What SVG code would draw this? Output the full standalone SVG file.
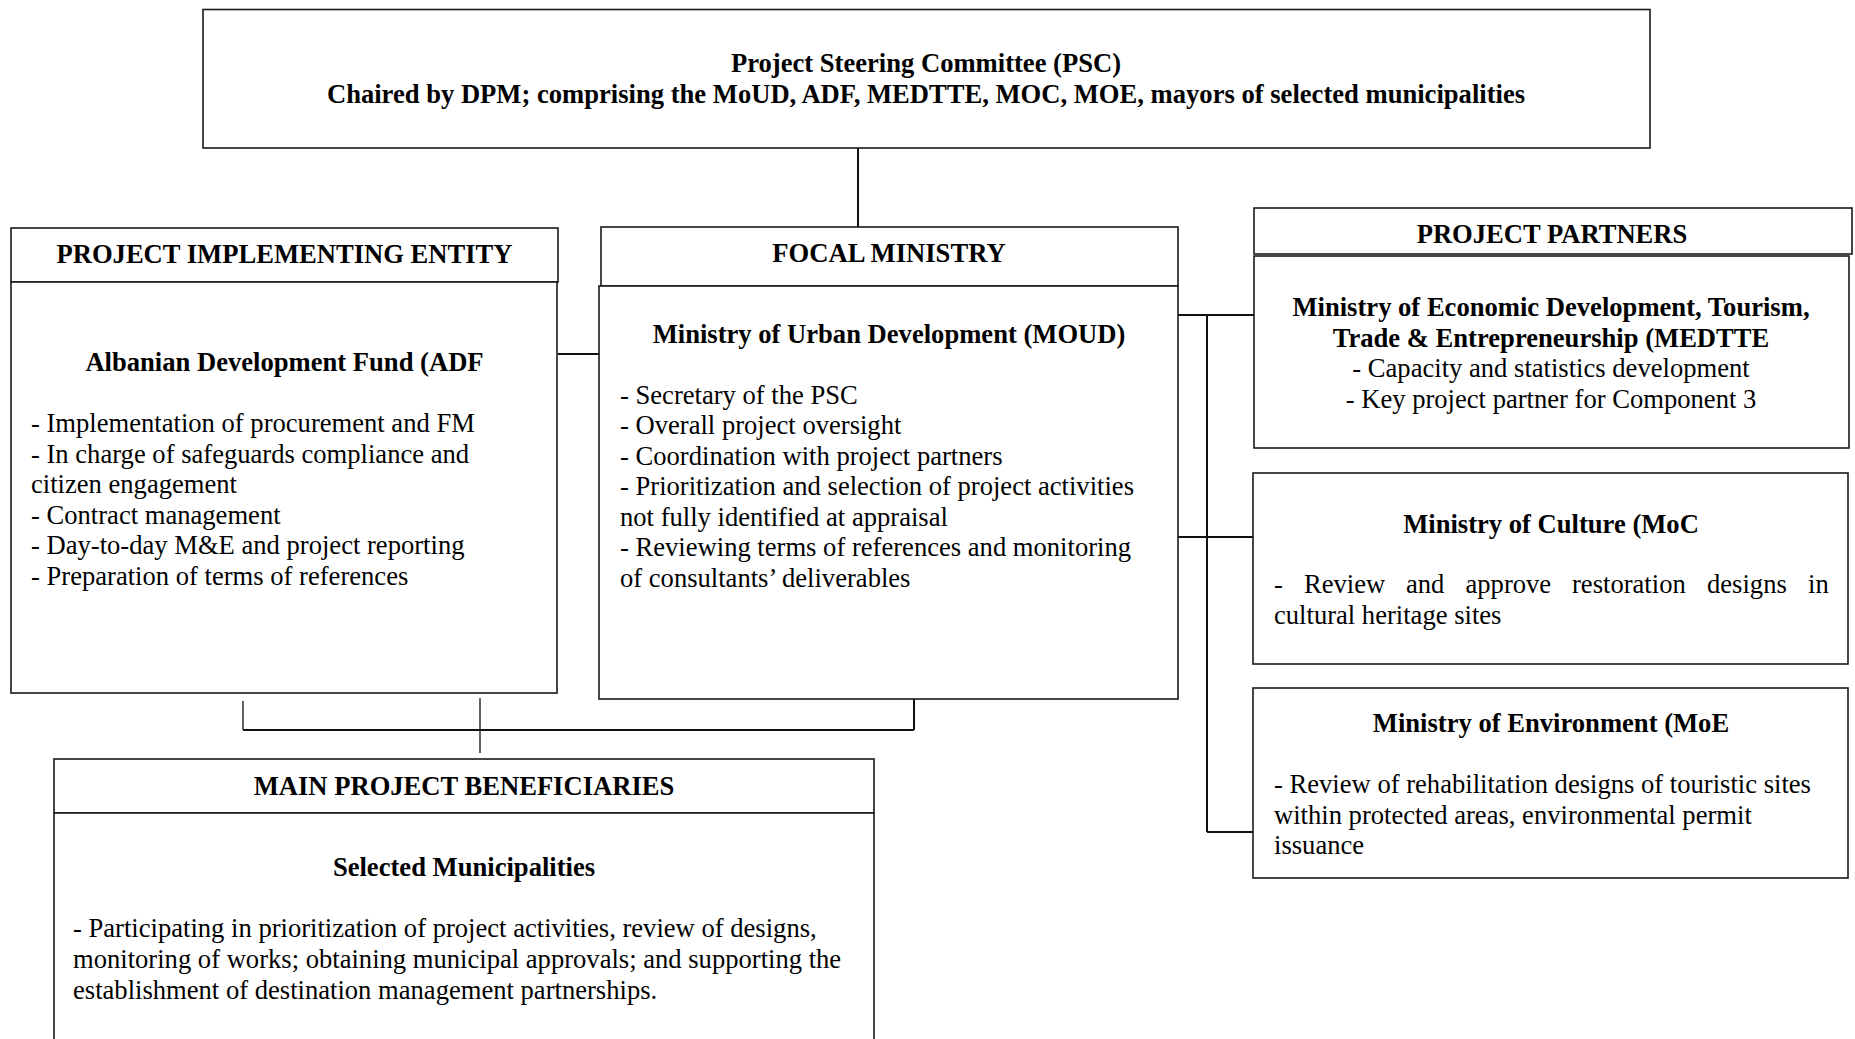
<svg xmlns="http://www.w3.org/2000/svg" width="1855" height="1039" viewBox="0 0 1855 1039">
  <style>
    .box { fill: #ffffff; stroke: #1a1a1a; stroke-width: 1.6; }
    .link { fill: none; stroke: #111111; stroke-width: 2; }
    .thin { fill: none; stroke: #222222; stroke-width: 1.4; }
    text { font-family: "Liberation Serif", "Times New Roman", serif; font-size: 26.6px; fill: #000000; }
    .b { font-weight: bold; }
    .c { text-anchor: middle; }
  </style>

  <rect width="1855" height="1039" fill="#ffffff"/>

  <!-- connectors -->
  <g id="connectors">
    <line class="link" x1="858" y1="148" x2="858" y2="227"/>
    <line class="link" x1="558" y1="354" x2="600" y2="354"/>
    <line class="link" x1="1178" y1="315" x2="1254" y2="315"/>
    <line class="link" x1="1207" y1="315" x2="1207" y2="832"/>
    <line class="link" x1="1178" y1="537" x2="1253" y2="537"/>
    <line class="link" x1="1207" y1="832" x2="1253" y2="832"/>
    <line class="thin" x1="243" y1="701" x2="243" y2="730"/>
    <line class="link" x1="243" y1="730" x2="914" y2="730"/>
    <line class="link" x1="914" y1="699" x2="914" y2="730"/>
    <line class="thin" x1="480" y1="698" x2="480" y2="753"/>
  </g>

  <!-- steering committee -->
  <g id="psc">
    <rect class="box" x="203" y="9.5" width="1447" height="138.5"/>
    <text class="b c" x="926" y="72">Project Steering Committee (PSC)</text>
    <text class="b c" x="926" y="103">Chaired by DPM; comprising the MoUD, ADF, MEDTTE, MOC, MOE, mayors of selected municipalities</text>
  </g>

  <!-- implementing entity -->
  <g id="implementing-entity">
    <rect class="box" x="11" y="228" width="547" height="54"/>
    <rect class="box" x="11" y="282" width="546" height="411"/>
    <text class="b c" x="284.5" y="263">PROJECT IMPLEMENTING ENTITY</text>
    <text class="b c" x="284.5" y="371">Albanian Development Fund (ADF</text>
    <text x="31" y="432">- Implementation of procurement and FM</text>
    <text x="31" y="462.5">- In charge of safeguards compliance and</text>
    <text x="31" y="493">citizen engagement</text>
    <text x="31" y="523.5">- Contract management</text>
    <text x="31" y="554">- Day-to-day M&amp;E and project reporting</text>
    <text x="31" y="584.5">- Preparation of terms of references</text>
  </g>

  <!-- focal ministry -->
  <g id="focal-ministry">
    <rect class="box" x="601" y="227" width="577" height="59"/>
    <rect class="box" x="599" y="286" width="579" height="413"/>
    <text class="b c" x="889" y="262">FOCAL MINISTRY</text>
    <text class="b c" x="889" y="343">Ministry of Urban Development (MOUD)</text>
    <text x="620" y="403.5">- Secretary of the PSC</text>
    <text x="620" y="434">- Overall project oversight</text>
    <text x="620" y="464.5">- Coordination with project partners</text>
    <text x="620" y="495">- Prioritization and selection of project activities</text>
    <text x="620" y="525.5">not fully identified at appraisal</text>
    <text x="620" y="556">- Reviewing terms of references and monitoring</text>
    <text x="620" y="586.5">of consultants’ deliverables</text>
  </g>

  <!-- project partners header -->
  <g id="project-partners">
    <rect class="box" x="1254" y="208" width="598" height="46"/>
    <text class="b c" x="1552" y="243">PROJECT PARTNERS</text>
  </g>

  <g id="medtte">
    <rect class="box" x="1254" y="256" width="595" height="192"/>
    <text class="b c" x="1551" y="316">Ministry of Economic Development, Tourism,</text>
    <text class="b c" x="1551" y="346.5">Trade &amp; Entrepreneurship (MEDTTE</text>
    <text class="c" x="1551" y="377">- Capacity and statistics development</text>
    <text class="c" x="1551" y="407.5">- Key project partner for Component 3</text>
  </g>

  <g id="moc">
    <rect class="box" x="1253" y="473" width="595" height="191"/>
    <text class="b c" x="1551" y="533">Ministry of Culture (MoC</text>
    <text y="593"><tspan x="1274">-</tspan><tspan x="1304">Review</tspan><tspan x="1406">and</tspan><tspan x="1465.5">approve</tspan><tspan x="1572">restoration</tspan><tspan x="1707">designs</tspan><tspan x="1808">in</tspan></text>
    <text x="1274" y="624">cultural heritage sites</text>
  </g>

  <g id="moe">
    <rect class="box" x="1253" y="688" width="595" height="190"/>
    <text class="b c" x="1551" y="731.5">Ministry of Environment (MoE</text>
    <text x="1274" y="793">- Review of rehabilitation designs of touristic sites</text>
    <text x="1274" y="823.5">within protected areas, environmental permit</text>
    <text x="1274" y="854">issuance</text>
  </g>

  <!-- beneficiaries -->
  <g id="beneficiaries">
    <rect class="box" x="54" y="759" width="820" height="54"/>
    <rect class="box" x="54" y="813" width="820" height="240"/>
    <text class="b c" x="464" y="794.5">MAIN PROJECT BENEFICIARIES</text>
    <text class="b c" x="464" y="876">Selected Municipalities</text>
    <text x="73" y="937">- Participating in prioritization of project activities, review of designs,</text>
    <text x="73" y="968">monitoring of works; obtaining municipal approvals; and supporting the</text>
    <text x="73" y="998.5">establishment of destination management partnerships.</text>
  </g>
</svg>
